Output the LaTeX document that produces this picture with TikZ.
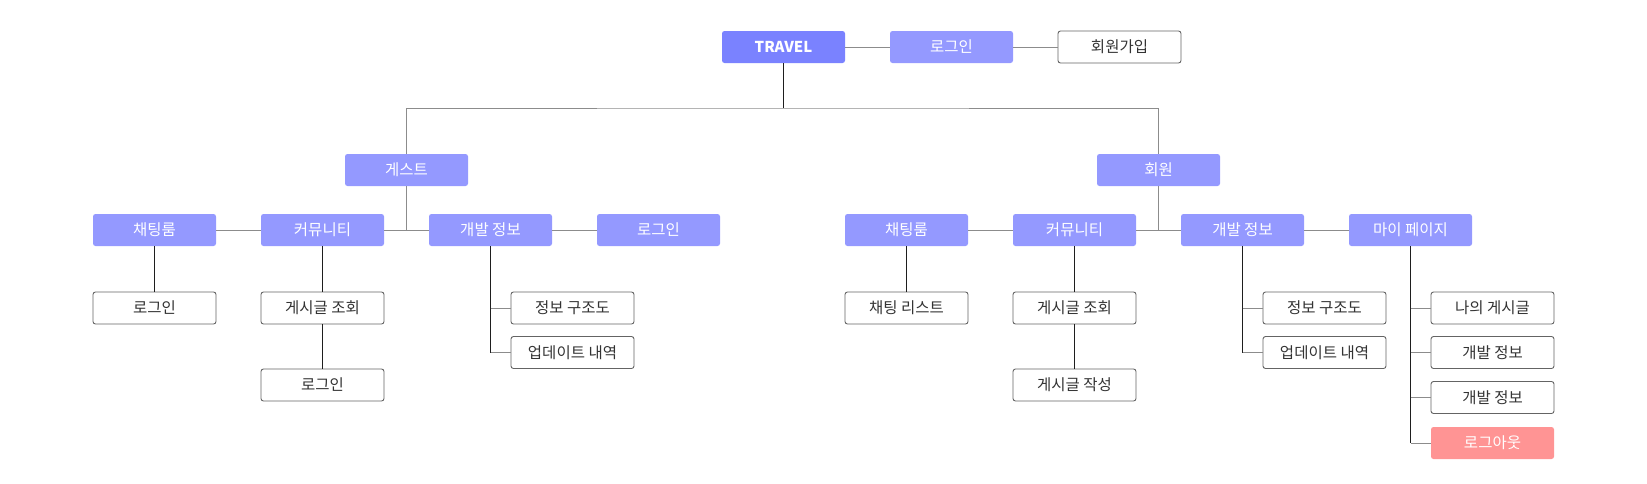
\documentclass[tikz,border=0pt]{standalone}
\usepackage{fontspec}
\setmainfont{Noto Sans CJK KR}
\begin{document}
\begin{tikzpicture}[x=1pt,y=-1pt,
  basebox/.style={minimum width=123pt,minimum height=32pt,inner sep=0pt,rounded corners=2.5pt,font=\fontsize{15.5}{18}\selectfont},
  rootbox/.style={basebox,fill=travelc,text=white,font=\fontsize{15}{18}\selectfont\bfseries},
  catbox/.style={basebox,fill=catc,text=white},
  leafbox/.style={basebox,draw=leafb,line width=0.9pt,fill=white,text=textc},
  logoutbox/.style={basebox,fill=outc,text=white},
  hline/.style={draw=lineg,line width=1pt},
  vline/.style={draw=lined,line width=1.2pt}]
\definecolor{travelc}{RGB}{122,130,255}
\definecolor{catc}{RGB}{148,153,255}
\definecolor{outc}{RGB}{255,148,148}
\definecolor{leafb}{RGB}{100,100,100}
\definecolor{textc}{RGB}{51,51,51}
\definecolor{lineg}{RGB}{140,140,140}
\definecolor{lined}{RGB}{30,30,30}
\useasboundingbox (0,0) rectangle (1647,483);
% top row
\node[rootbox] (travel) at (783.5,47) {TRAVEL};
\node[catbox] (login0) at (951.5,47) {로그인};
\node[leafbox] (join) at (1119.5,47) {회원가입};
% level 1
\node[catbox] (guest) at (406.5,170) {게스트};
\node[catbox] (member) at (1158.5,170) {회원};
% guest row
\node[catbox] (gchat) at (154.5,230) {채팅룸};
\node[catbox] (gcomm) at (322.5,230) {커뮤니티};
\node[catbox] (gdev) at (490.5,230) {개발 정보};
\node[catbox] (glogin) at (658.5,230) {로그인};
% member row
\node[catbox] (mchat) at (906.5,230) {채팅룸};
\node[catbox] (mcomm) at (1074.5,230) {커뮤니티};
\node[catbox] (mdev) at (1242.5,230) {개발 정보};
\node[catbox] (mmy) at (1410.5,230) {마이 페이지};
% guest leaves
\node[leafbox] (gchatlogin) at (154.5,308) {로그인};
\node[leafbox] (gview) at (322.5,308) {게시글 조회};
\node[leafbox] (gviewlogin) at (322.5,385) {로그인};
\node[leafbox] (gstruct) at (572.5,308) {정보 구조도};
\node[leafbox] (gupdate) at (572.5,352.5) {업데이트 내역};
% member leaves
\node[leafbox] (mchatlist) at (906.5,308) {채팅 리스트};
\node[leafbox] (mview) at (1074.5,308) {게시글 조회};
\node[leafbox] (mwrite) at (1074.5,385) {게시글 작성};
\node[leafbox] (mstruct) at (1324.5,308) {정보 구조도};
\node[leafbox] (mupdate) at (1324.5,352.5) {업데이트 내역};
\node[leafbox] (mypost) at (1492.5,308) {나의 게시글};
\node[leafbox] (mydev1) at (1492.5,352.5) {개발 정보};
\node[leafbox] (mydev2) at (1492.5,397.5) {개발 정보};
\node[logoutbox] (logout) at (1492.5,443) {로그아웃};
% top connectors
\draw[hline] (travel) -- (login0);
\draw[hline] (login0) -- (join);
\coordinate (bus) at (783.5,108);
\draw[vline] (travel.south) -- (bus);
\draw[hline] (guest.north) |- (bus) -| (member.north);
% guest row
\draw[hline] (gchat) -- (gcomm);
\draw[hline] (gcomm) -- (gdev);
\draw[hline] (gdev) -- (glogin);
\draw[hline] (guest.south) -- (guest.south |- gcomm.east);
% member row
\draw[hline] (mchat) -- (mcomm);
\draw[hline] (mcomm) -- (mdev);
\draw[hline] (mdev) -- (mmy);
\draw[hline] (member.south) -- (member.south |- mcomm.east);
% vertical children
\draw[vline] (gchat) -- (gchatlogin);
\draw[vline] (gcomm) -- (gview);
\draw[vline] (gview) -- (gviewlogin);
\draw[vline] (mchat) -- (mchatlist);
\draw[vline] (mcomm) -- (mview);
\draw[vline] (mview) -- (mwrite);
% elbow children
\draw[vline] (gdev.south) -- (gdev.south |- gupdate.west);
\draw[hline] (gdev.south |- gstruct.west) -- (gstruct.west);
\draw[hline] (gdev.south |- gupdate.west) -- (gupdate.west);
\draw[vline] (mdev.south) -- (mdev.south |- mupdate.west);
\draw[hline] (mdev.south |- mstruct.west) -- (mstruct.west);
\draw[hline] (mdev.south |- mupdate.west) -- (mupdate.west);
\draw[vline] (mmy.south) -- (mmy.south |- logout.west);
\draw[hline] (mmy.south |- mypost.west) -- (mypost.west);
\draw[hline] (mmy.south |- mydev1.west) -- (mydev1.west);
\draw[hline] (mmy.south |- mydev2.west) -- (mydev2.west);
\draw[hline] (mmy.south |- logout.west) -- (logout.west);
\end{tikzpicture}
\end{document}
